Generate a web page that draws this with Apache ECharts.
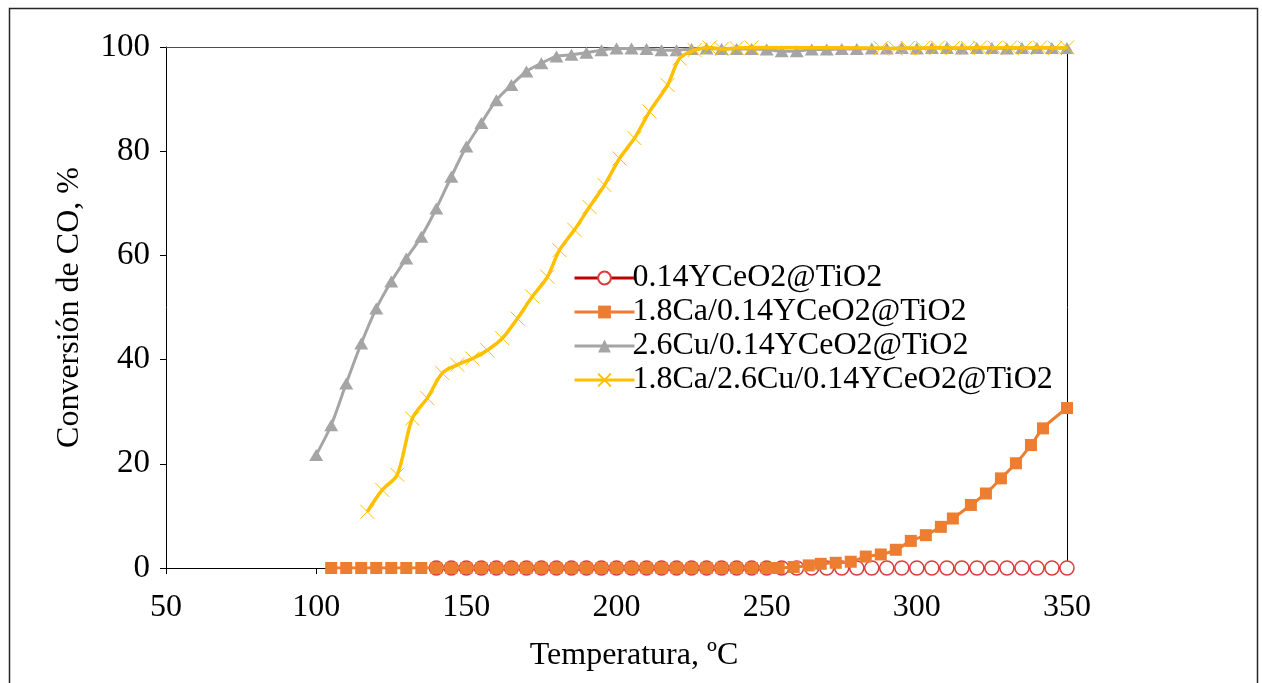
<!DOCTYPE html>
<html>
<head>
<meta charset="utf-8">
<script src="https://cdn.jsdelivr.net/npm/echarts@6/dist/echarts.min.js"></script>
<style>
  html, body { margin: 0; padding: 0; background: #ffffff; }
  #chart { width: 1262px; height: 683px; }
</style>
</head>
<body>
<div id="chart"></div>
<script>
// Series names (legend order)
const seriesNames = [
  '0.14YCeO2@TiO2',
  '1.8Ca/0.14YCeO2@TiO2',
  '2.6Cu/0.14YCeO2@TiO2',
  '1.8Ca/2.6Cu/0.14YCeO2@TiO2'
];

// 0.14YCeO2@TiO2 — temperatures (°C) and CO conversion (%)
const tempYCe = [140,145,150,155,160,165,170,175,180,185,190,195,200,205,210,215,220,225,230,235,240,245,250,255,260,265,270,275,280,285,290,295,300,305,310,315,320,325,330,335,340,345,350];
const convYCe = [0,0,0,0,0,0,0,0,0,0,0,0,0,0,0,0,0,0,0,0,0,0,0,0,0,0,0,0,0,0,0,0,0,0,0,0,0,0,0,0,0,0,0];

// 1.8Ca/0.14YCeO2@TiO2
const tempCa = [105,110,115,120,125,130,135,140,145,150,155,160,165,170,175,180,185,190,195,200,205,210,215,220,225,230,235,240,245,250,254,259,264,268,273,278,283,288,293,298,303,308,312,318,323,328,333,338,342,350];
const convCa = [0,0,0,0,0,0,0,0,0,0,0,0,0,0,0,0,0,0,0,0,0,0,0,0,0,0,0,0,0,0,0,0.2,0.5,0.8,1.0,1.2,2.2,2.6,3.5,5.2,6.3,7.9,9.5,12.1,14.3,17.2,20.1,23.6,26.8,30.7];

// 2.6Cu/0.14YCeO2@TiO2
const tempCu = [100,105,110,115,120,125,130,135,140,145,150,155,160,165,170,175,180,185,190,195,200,205,210,215,220,225,230,235,240,245,250,255,260,265,270,275,280,285,290,295,300,305,310,315,320,325,330,335,340,345,350];
const convCu = [21.7,27.4,35.4,43.1,49.8,55.0,59.4,63.6,69.0,75.1,80.9,85.4,89.8,92.7,95.3,96.9,98.2,98.5,98.9,99.4,99.7,99.7,99.6,99.4,99.4,99.6,99.7,99.6,99.6,99.6,99.5,99.2,99.2,99.5,99.5,99.6,99.6,99.7,99.7,99.8,99.7,99.8,99.8,99.7,99.8,99.8,99.7,99.8,99.8,99.8,99.8];

// 1.8Ca/2.6Cu/0.14YCeO2@TiO2
const tempCaCu = [117,122,127,132,137,142,147,152,157,162,167,172,177,181,186,191,196,201,206,211,217,221,226,231,235,240,245,288,293,297,302,307,312,317,321,326,331,336,341,346,350];
const convCaCu = [10.8,15.0,17.9,28.7,32.6,37.4,39.0,40.2,41.8,44.1,47.9,52.1,55.9,61.0,64.9,69.3,73.5,78.6,82.5,87.6,92.7,97.8,99.4,99.9,99.6,99.8,99.9,99.8,99.7,99.8,99.8,99.9,99.8,99.8,99.9,99.8,99.9,99.8,99.9,99.8,99.9];

// Axis ticks
const xTicks = [50, 100, 150, 200, 250, 300, 350];
const yTicks = [0, 20, 40, 60, 80, 100];

const pairs = (xs, ys) => xs.map((x, i) => [x, ys[i]]);

const FONT = '"Liberation Serif", "Times New Roman", serif';
const crossPath = 'path://M0,0 L10,10 M10,0 L0,10';

const xMin = xTicks[0], xMax = xTicks[xTicks.length - 1];
const yMin = yTicks[0], yMax = yTicks[yTicks.length - 1];

const chart = echarts.init(document.getElementById('chart'), null, { renderer: 'canvas' });

chart.setOption({
  backgroundColor: '#ffffff',
  animation: false,
  graphic: [{
    type: 'rect',
    shape: { x: 9.5, y: 8.5, width: 1248, height: 700 },
    style: { fill: 'none', stroke: '#262626', lineWidth: 1.5 },
    silent: true,
    z: -10
  }],
  grid: {
    left: 166, right: 195, top: 47, bottom: 115,
    show: false
  },
  legend: {
    orient: 'vertical',
    left: 568, top: 257,
    itemWidth: 60, itemHeight: 16, itemGap: 2,
    data: seriesNames,
    lineStyle: { width: 3 },
    textStyle: { fontFamily: FONT, fontSize: 32, color: '#000', lineHeight: 32, padding: [0, 0, 0, -7] }
  },
  xAxis: [
    {
      type: 'value',
      min: xMin, max: xMax, interval: 50,
      name: 'Temperatura, ºC',
      nameLocation: 'middle', nameGap: 72,
      nameTextStyle: { fontFamily: FONT, fontSize: 32, color: '#000', padding: [0, 0, 0, 35] },
      axisLine: { onZero: false, lineStyle: { color: '#000', width: 1 } },
      axisTick: { show: true, inside: false, length: 6, lineStyle: { color: '#000' } },
      axisLabel: { fontFamily: FONT, fontSize: 32, color: '#000', margin: 24 },
      splitLine: { show: false }
    },
    {
      // plot frame, top edge
      type: 'value', position: 'top',
      min: xMin, max: xMax, interval: 50,
      axisLine: { onZero: false, lineStyle: { color: '#4d4d4d', width: 1 } },
      axisTick: { show: false },
      axisLabel: { show: false },
      splitLine: { show: false }
    }
  ],
  yAxis: [
    {
      type: 'value',
      min: yMin, max: yMax, interval: 20,
      name: 'Conversión de CO, %',
      nameLocation: 'middle', nameGap: 80, nameRotate: 90,
      nameTextStyle: { fontFamily: FONT, fontSize: 32, color: '#000' },
      axisLine: { show: true, onZero: false, lineStyle: { color: '#000', width: 1 } },
      axisTick: { show: true, inside: false, length: 6, lineStyle: { color: '#000' } },
      axisLabel: { fontFamily: FONT, fontSize: 33, color: '#000', margin: 16 },
      splitLine: { show: false }
    },
    {
      // plot frame, right edge
      type: 'value', position: 'right',
      min: yMin, max: yMax, interval: 20,
      axisLine: { show: true, onZero: false, lineStyle: { color: '#000', width: 1 } },
      axisTick: { show: false },
      axisLabel: { show: false },
      splitLine: { show: false }
    }
  ],
  series: [
    {
      name: seriesNames[0], type: 'line', smooth: 0.3,
      data: pairs(tempYCe, convYCe),
      symbol: 'circle', symbolSize: 14,
      lineStyle: { color: '#C00000', width: 3 },
      itemStyle: { color: '#ffffff', borderColor: '#DC3C3C', borderWidth: 1.5 },
      z: 2
    },
    {
      name: seriesNames[1], type: 'line', smooth: 0.3,
      data: pairs(tempCa, convCa),
      symbol: 'rect', symbolSize: 12,
      lineStyle: { color: '#ED7D31', width: 3 },
      itemStyle: { color: '#ED7D31' },
      z: 3
    },
    {
      name: seriesNames[2], type: 'line', smooth: 0.3,
      data: pairs(tempCu, convCu),
      symbol: 'triangle', symbolSize: [14, 12],
      lineStyle: { color: '#A5A5A5', width: 3 },
      itemStyle: { color: '#A5A5A5' },
      z: 4
    },
    {
      name: seriesNames[3], type: 'line', smooth: 0.3,
      data: pairs(tempCaCu, convCaCu),
      symbol: crossPath, symbolSize: 14,
      lineStyle: { color: '#FFC000', width: 3.5 },
      itemStyle: { color: 'rgba(0,0,0,0)', borderColor: '#FFC000', borderWidth: 1 },
      z: 5
    }
  ]
});
</script>
</body>
</html>
